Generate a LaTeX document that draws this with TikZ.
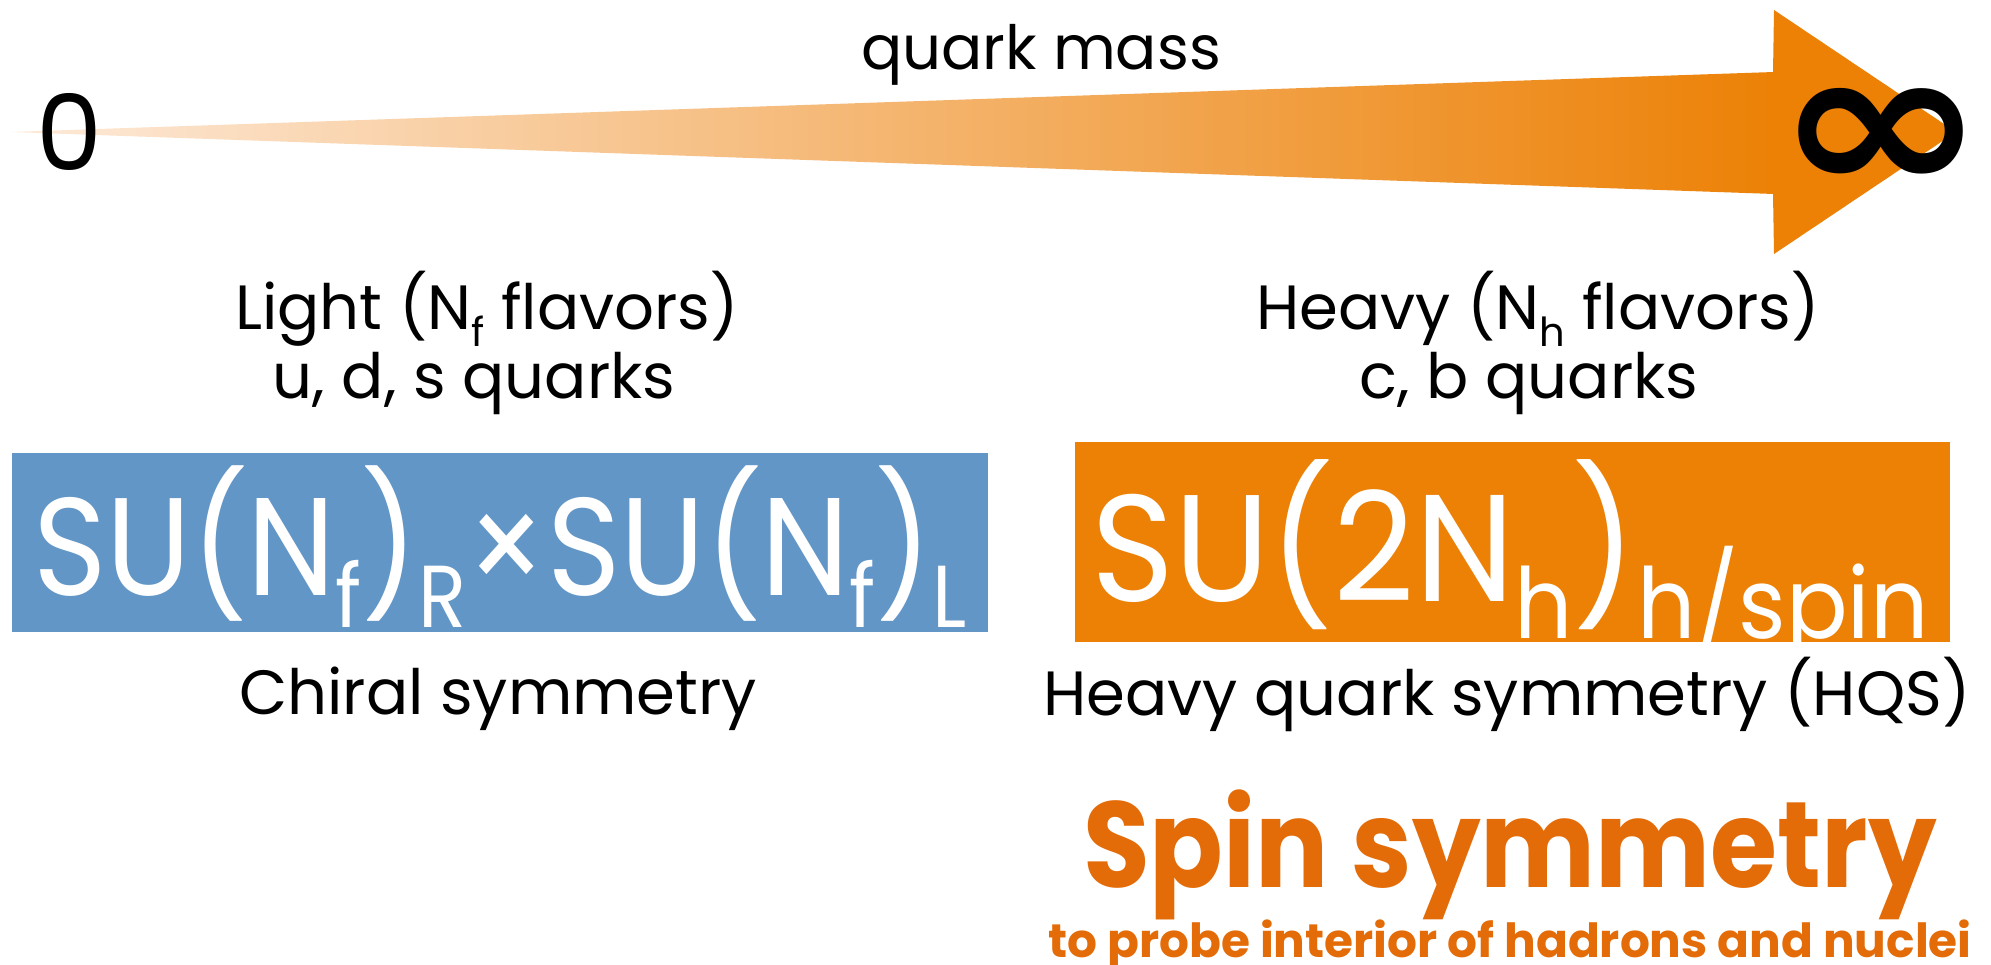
\documentclass[tikz,border=0pt]{standalone}
\usepackage{fontspec}
\setmainfont{Poppins}
\newfontfamily\narrowfont[FakeStretch=0.9]{Poppins}
\newfontfamily\narrowerfont[FakeStretch=0.93]{Poppins}
\newfontfamily\spinfont[FakeStretch=0.89]{Poppins}
\newfontfamily\dvb{DejaVu Sans}
\definecolor{boxblue}{RGB}{98,150,199}
\definecolor{boxorange}{RGB}{236,129,6}
\definecolor{spinorange}{RGB}{227,108,9}
\definecolor{arrowlight}{RGB}{253,234,218}
\newcommand{\fs}[1]{\fontsize{#1}{#1}\selectfont}
\newcommand{\lowsub}[3]{\raisebox{-#1pt}{\fs{#2}#3}}
\begin{document}
\begin{tikzpicture}[x=1pt,y=-1pt,
  every node/.style={inner sep=0pt,outer sep=0pt},
  lbl/.style={anchor=base,font=\fs{62.5}},
  boxtext/.style={anchor=base,text=white},
  symbox/.style={anchor=north west,inner sep=0pt}]
\useasboundingbox (0,0) rectangle (1991,965);
% arrow
\shade[left color=arrowlight,right color=boxorange] (10,132) -- (1774,72) -- (1774,194) -- cycle;
\fill[boxorange] (1773,72) -- (1774,10) -- (1956,132) -- (1774,254) -- (1773,194) -- cycle;
\node[font=\fs{105}] (zero) at (69,132) {0};
\node[font=\dvb\bfseries] (inf) at (1881,140) {\resizebox*{211pt}{104pt}{∞}};
\node[anchor=base,font=\fs{61}] (qm) at (1041,70) {quark mass};
% labels
\node[lbl] (light) at (487,330) {Light (N\lowsub{17}{40}{f} flavors)};
\node[lbl] (uds) at (474,398) {u, d, s quarks};
\node[lbl] (heavy) at (1538,330) {Heavy (N\lowsub{17}{40}{h} flavors)};
\node[lbl] (cb) at (1529,398) {c, b quarks};
% boxes
\node[symbox,fill=boxblue,minimum width=976pt,minimum height=179pt] (bluebox) at (12,453) {};
\node[symbox,fill=boxorange,minimum width=875pt,minimum height=200pt] (orangebox) at (1075,442) {};
\node[boxtext,font=\narrowfont\fs{139}] (chiralsym) at (500,595)
  {SU(N\lowsub{32}{88}{f})\lowsub{32}{88}{R}×SU(N\lowsub{32}{88}{f})\lowsub{32}{88}{L}};
\node[boxtext,font=\narrowerfont\fs{152}] (hqsym) at (1510,601)
  {SU(2N\lowsub{37}{98}{h})\lowsub{37}{98}{h/spin}};
\node[lbl] (chiral) at (498,714) {Chiral symmetry};
\node[lbl] (hqs) at (1507,715) {Heavy quark symmetry (HQS)};
\node[anchor=base,font=\spinfont\fs{122}\bfseries,text=spinorange] (spin) at (1510,887) {Spin symmetry};
\node[anchor=base,font=\fs{47}\bfseries,text=spinorange] (probe) at (1510,957) {to probe interior of hadrons and nuclei};
\end{tikzpicture}
\end{document}
